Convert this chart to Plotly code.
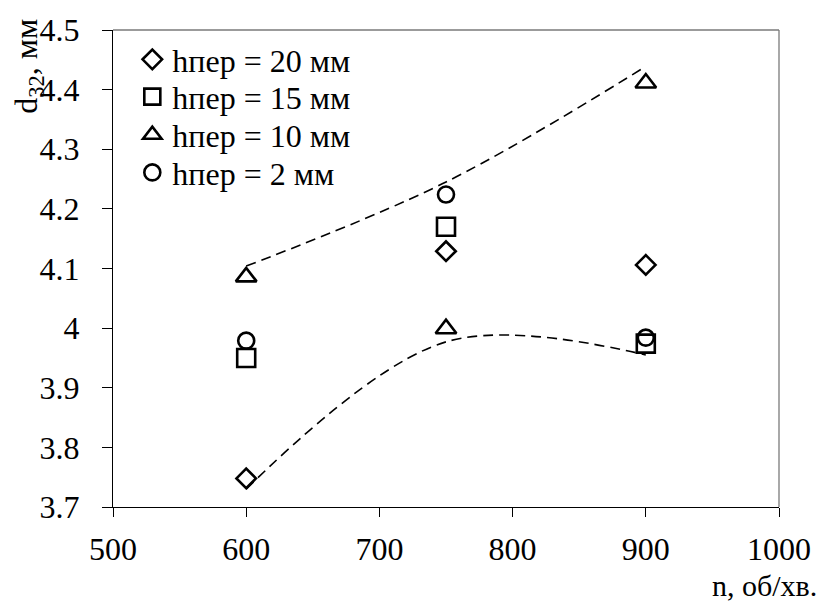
import plotly.graph_objects as go

n_vals = [600, 750, 900]
h20 = [3.748, 4.129, 4.106]
h15 = [3.950, 4.170, 3.974]
h10 = [4.086, 3.999, 4.411]
h2 = [3.979, 4.224, 3.984]
upper_trend = [4.104, 4.245, 4.439]
lower_trend = [3.730, 3.977, 3.955]

y_ticks = [3.7, 3.8, 3.9, 4.0, 4.1, 4.2, 4.3, 4.4, 4.5]
y_tick_text = ["3.7", "3.8", "3.9", "4", "4.1", "4.2", "4.3", "4.4", "4.5"]
x_ticks = [500, 600, 700, 800, 900, 1000]

FONT = "Liberation Serif"
FS = 32

fig = go.Figure()
for tr in (upper_trend, lower_trend):
    fig.add_trace(go.Scatter(x=n_vals, y=tr, mode="lines",
                             line=dict(color="black", width=1.6, dash="10px,6px", shape="spline", smoothing=1.0),
                             showlegend=False, hoverinfo="skip"))

series = [
    ("hпер = 20 мм", h20, "diamond-open", 15, "legend"),
    ("hпер = 15 мм", h15, "square-open", 18, "legend2"),
    ("hпер = 10 мм", h10, "triangle-up-open", 18, "legend3"),
    ("hпер = 2 мм", h2, "circle-open", 16, "legend4"),
]
for name, ys, sym, sz, lg in series:
    fig.add_trace(go.Scatter(x=n_vals, y=ys, mode="markers", name=name, legend=lg,
                             marker=dict(symbol=sym, size=sz, color="black", line=dict(color="black", width=2.6))))

legend_rows = [0.938, 0.860, 0.780, 0.701]
def leg(yv):
    return dict(x=0.029, y=yv, xanchor="left", yanchor="middle", bgcolor="rgba(0,0,0,0)",
                font=dict(family=FONT, size=FS), itemsizing="trace", itemwidth=30)

fig.update_layout(
    width=823, height=610,
    margin=dict(l=113, r=40, t=21, b=103),
    paper_bgcolor="white", plot_bgcolor="white",
    font=dict(family=FONT, size=FS, color="black"),
    showlegend=True,
    legend=leg(legend_rows[0]),
    legend2=leg(legend_rows[1]),
    legend3=leg(legend_rows[2]),
    legend4=leg(legend_rows[3]),
    xaxis=dict(range=[500, 1000], tickvals=x_ticks, ticks="outside", ticklen=9, tickcolor="black", tickwidth=1,
               showline=True, linecolor="black", linewidth=1.3, mirror=False, showgrid=False, zeroline=False,
               tickfont=dict(family=FONT, size=FS), ticklabelstandoff=4),
    yaxis=dict(range=[3.7, 4.5], tickvals=y_ticks, ticktext=y_tick_text, ticks="outside", ticklen=10, tickcolor="black", tickwidth=1,
               showline=True, linecolor="black", linewidth=1.3, mirror=False, showgrid=False, zeroline=False,
               tickfont=dict(family=FONT, size=FS), ticklabelstandoff=16),
    shapes=[
        dict(type="line", xref="paper", yref="paper", x0=0, x1=1, y0=1, y1=1, line=dict(color="#7a7a7a", width=1.3)),
        dict(type="line", xref="paper", yref="paper", x0=1, x1=1, y0=0, y1=1, line=dict(color="#7a7a7a", width=1.3)),
    ],
    annotations=[
        dict(text="d<sub>32</sub>, мм", x=-0.126, y=1.027, xref="paper", yref="paper", showarrow=False,
             textangle=-90, xanchor="center", yanchor="top", font=dict(family=FONT, size=FS)),
        dict(text="n, об/хв.", x=1.0, y=0, xref="paper", yref="paper", showarrow=False,
             xanchor="right", yanchor="top", yshift=-60, xshift=40, font=dict(family=FONT, size=30)),
    ],
)
fig.write_html("out.html")
